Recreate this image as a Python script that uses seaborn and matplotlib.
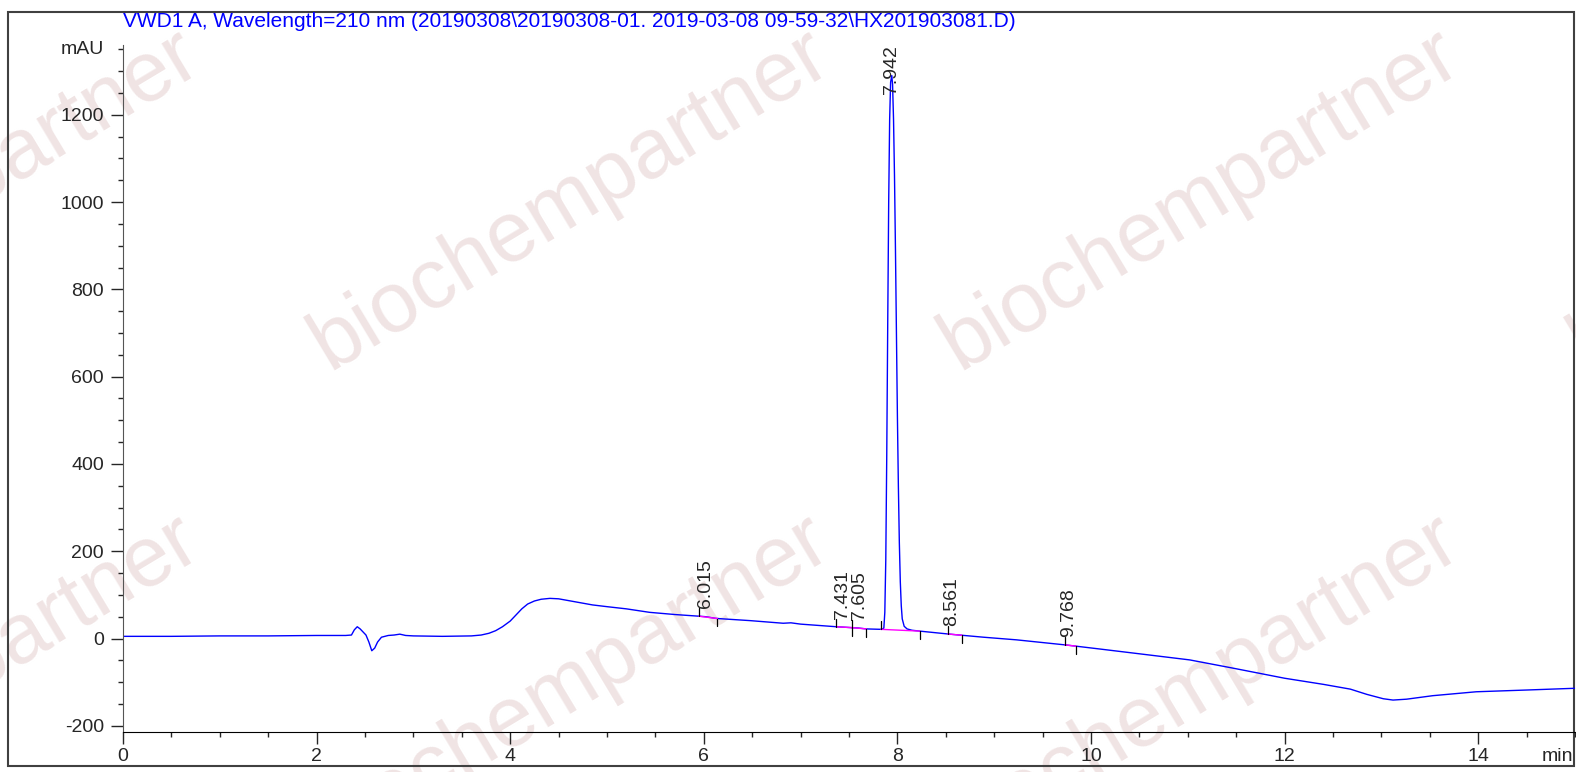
import numpy as np
import matplotlib
matplotlib.use("Agg")
import matplotlib.pyplot as plt
import seaborn as sns
from matplotlib.patches import Rectangle
from matplotlib.ticker import MultipleLocator

# chromatogram trace (time in min, signal in mAU)
times = [0.00, 0.50, 1.00, 1.50, 2.00, 2.30, 2.36, 2.39, 2.42, 2.45, 2.48, 2.51, 2.54, 2.57,
         2.60, 2.63, 2.67, 2.74, 2.80, 2.86, 2.92, 3.00, 3.30, 3.60, 3.70, 3.78, 3.85, 3.92,
         4.00, 4.06, 4.12, 4.18, 4.25, 4.32, 4.41, 4.50, 4.60, 4.70, 4.85, 5.00, 5.20, 5.44,
         5.70, 5.96, 6.02, 6.13, 6.48, 6.82, 6.90, 7.00, 7.37, 7.60, 7.68, 7.84, 7.86, 7.87,
         7.88, 7.89, 7.90, 7.91, 7.92, 7.93, 7.942, 7.95, 7.96, 7.97, 7.98, 7.99, 8.00, 8.01,
         8.02, 8.03, 8.04, 8.05, 8.07, 8.10, 8.15, 8.23, 8.54, 8.89, 9.23, 9.75, 10.09, 10.50,
         11.02, 11.47, 12.00, 12.40, 12.68, 12.85, 13.02, 13.12, 13.26, 13.53, 13.98, 14.50,
         15.00]
signal = [5, 5, 6, 6, 7, 7, 8, 20, 27, 22, 15, 8, -8, -28,
          -22, -8, 3, 7, 8, 10, 7, 6, 5, 6, 8, 12, 18, 27,
          40, 54, 68, 79, 86, 90, 92, 91, 87, 83, 77, 73, 68, 60,
          55, 51, 50, 46, 41, 35, 36, 33, 27, 24, 22, 21, 24, 60,
          180, 420, 720, 1000, 1190, 1275, 1290, 1270, 1190, 1060, 890, 700, 510, 350,
          220, 130, 75, 45, 28, 22, 19, 17, 10, 3, -3, -15, -24, -35,
          -49, -68, -91, -105, -116, -128, -138, -141, -139, -131, -122, -118,
          -114]

# integrated peaks
peak_rt = [6.015, 7.431, 7.605, 7.942, 8.561, 9.768]
peak_start = [5.95, 7.37, 7.53, 7.83, 8.52, 9.73]
peak_end = [6.14, 7.53, 7.68, 8.23, 8.67, 9.85]

title = "VWD1 A, Wavelength=210 nm (20190308\\20190308-01. 2019-03-08 09-59-32\\HX201903081.D)"
watermark = "biochempartner"

sns.set_style("ticks")
plt.rcParams['font.family'] = ['Liberation Sans', 'DejaVu Sans']
plt.rcParams['axes.unicode_minus'] = False

W, H = 1576, 772
fig = plt.figure(figsize=(W / 100, H / 100), dpi=100)

# watermark tiles (behind everything)
for cy in [200, 685]:
    for cx in [-60, 570, 1200, 1830]:
        fig.text(cx / W, 1 - cy / H, watermark, fontsize=61, color='#f0e4e4',
                 rotation=31, ha='center', va='center', rotation_mode='anchor', zorder=-5)

# outer frame
fig.patches.append(Rectangle((8 / W, 6 / H), 1566 / W, 754 / H, transform=fig.transFigure,
                             fill=False, edgecolor='#404040', lw=1.5, zorder=-4))

ax = fig.add_axes([123 / W, 40.3 / H, 1452 / W, 686.7 / H])
ax.set_facecolor('none')

sns.lineplot(x=times, y=signal, ax=ax, color='#0000ff', lw=1, estimator=None, sort=False)

ymin, ymax = -213.5, 1360
ax.set_xlim(0, 15)
ax.set_ylim(ymin, ymax)

tr = np.array(times)
sg = np.array(signal)
tick_len = 18  # mAU, about 8 px
for rt, s, e in zip(peak_rt, peak_start, peak_end):
    ys = np.interp(s, tr, sg)
    ye = np.interp(e, tr, sg)
    ax.plot([s, e], [ys, ye], color='#ff00ff', lw=1, zorder=3)
    ax.plot([s, s], [ys, ys + tick_len], color='black', lw=0.9, zorder=4)
    ax.plot([e, e], [ye, ye - tick_len], color='black', lw=0.9, zorder=4)
    yr = np.interp(rt, tr, sg)
    if yr > 1000:
        ax.text(rt, ymax, f"{rt:.3f}", rotation=90, ha='center', va='top', fontsize=14)
    else:
        ax.annotate(f"{rt:.3f}", xy=(rt, yr), xytext=(0, 6), textcoords='offset points',
                    rotation=90, ha='center', va='bottom', fontsize=14)

ax.set_yticks(list(range(-200, 1201, 200)))
ax.yaxis.set_minor_locator(MultipleLocator(50))
ax.xaxis.set_major_locator(MultipleLocator(2))
ax.xaxis.set_minor_locator(MultipleLocator(0.5))
ax.set_xticks(list(range(0, 15, 2)))
ax.tick_params(axis='both', which='major', direction='out', length=8.6, width=1, labelsize=14)
ax.tick_params(axis='both', which='minor', direction='out', length=3.6, width=1)
ax.tick_params(axis='y', which='major', pad=5)
ax.tick_params(axis='x', which='major', pad=3)

ax.annotate("mAU", xy=(0, 1350), xycoords=('axes fraction', 'data'), xytext=(-13.7, 0),
            textcoords='offset points', ha='right', va='center', fontsize=14)
ax.annotate("min", xy=(1, 0), xycoords='axes fraction', xytext=(-1, -11.6),
            textcoords='offset points', ha='right', va='top', fontsize=14)

for side in ['top', 'right']:
    ax.spines[side].set_visible(False)
ax.spines['left'].set_color('#555555')
ax.spines['bottom'].set_color('black')

fig.text(123 / W, 1 - 12 / H, title, color='#0000ff', fontsize=15, ha='left', va='top')

plt.savefig("out.png", dpi=100)
